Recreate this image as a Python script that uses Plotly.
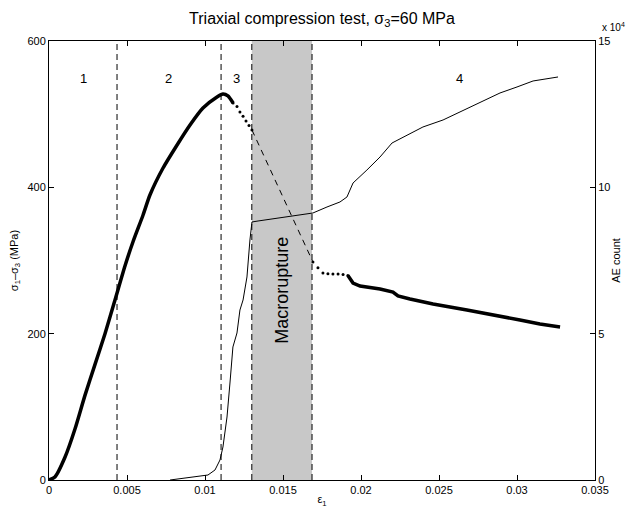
import plotly.graph_objects as go

# ---------------- data ----------------
# differential stress (MPa) vs axial strain
strain_pre = [0, 0.00038, 0.00103, 0.00167, 0.00231, 0.00295, 0.00359, 0.00423, 0.00487,
              0.00538, 0.00603, 0.00647, 0.00731, 0.00821, 0.00904, 0.00987, 0.01077,
              0.01115, 0.01147, 0.0118]
stress_pre = [0, 4.1, 31.4, 70.0, 116.0, 158.0, 200.0, 246.0, 292.5,
              325.3, 362.2, 389.5, 426.4, 457.9, 485.2, 508.4, 523.5,
              527.6, 524.9, 515.3]

strain_drop = [0.0118, 0.01205, 0.01224, 0.01244, 0.01263, 0.01282, 0.01301]
stress_drop = [515.3, 510.5, 503.0, 497.0, 490.6, 484.5, 478.4]

strain_rupture = [0.01301, 0.01692]
stress_rupture = [478.4, 297.9]

strain_settle = [0.01692, 0.01724, 0.01756, 0.01788, 0.0182, 0.01853, 0.01885, 0.01916]
stress_settle = [297.9, 290.0, 282.9, 282.0, 281.5, 281.5, 281.0, 279.5]

strain_post = [0.01916, 0.01949, 0.01994, 0.02038, 0.02122, 0.02205, 0.02237, 0.02314,
               0.02462, 0.02679, 0.02827, 0.02955, 0.03019, 0.03147, 0.03276]
stress_post = [279.5, 269.2, 265.1, 263.8, 261.0, 256.9, 251.5, 247.4,
               240.5, 232.3, 226.9, 221.4, 218.7, 213.2, 209.1]

# cumulative acoustic emission count
strain_ae = [0.00776, 0.00923, 0.01019, 0.01064, 0.01096, 0.01115, 0.01141, 0.0116, 0.01179,
             0.01205, 0.01224, 0.01244, 0.01269, 0.01288, 0.01301, 0.0134, 0.01692,
             0.01782, 0.01865, 0.0191, 0.01949, 0.02038, 0.02122, 0.02199, 0.02295,
             0.02397, 0.02526, 0.02635, 0.02763, 0.02891, 0.03, 0.03103, 0.03263]
ae_count = [0, 1025, 1709, 3417, 6834, 11276, 21527, 33145, 45446,
            50230, 58089, 61506, 69365, 82008, 88159, 88500, 91234,
            93284, 94993, 96701, 101485, 105927, 110369, 115153, 117887,
            120620, 123012, 125746, 129163, 132238, 134288, 136338, 137705]

# stage boundaries (strain) and macrorupture band
stage_bounds = [0.00436, 0.01103, 0.0130, 0.01686]
rupture_band = [0.0130, 0.01686]
stage_labels = ["1", "2", "3", "4"]
stage_label_x = [0.00218, 0.00769, 0.01205, 0.0263]
stage_label_y = [549, 549, 549, 549]

x_ticks = [0, 0.005, 0.01, 0.015, 0.02, 0.025, 0.03, 0.035]
y_ticks = [0, 200, 400, 600]
ae_ticks = [0, 50000, 100000, 150000]
ae_tick_text = ["0", "5", "10", "15"]

FONT = "Liberation Sans, Arial, Helvetica, sans-serif"

fig = go.Figure()

fig.add_trace(go.Scatter(x=strain_ae, y=ae_count, mode="lines", yaxis="y2",
                         line=dict(color="black", width=1), showlegend=False))
fig.add_trace(go.Scatter(x=strain_pre, y=stress_pre, mode="lines",
                         line=dict(color="black", width=3.5, shape="spline", smoothing=0.6),
                         showlegend=False))
fig.add_trace(go.Scatter(x=strain_drop, y=stress_drop, mode="markers",
                         marker=dict(color="black", size=3), showlegend=False))
fig.add_trace(go.Scatter(x=strain_rupture, y=stress_rupture, mode="lines",
                         line=dict(color="black", width=1, dash="6px,5px"), showlegend=False))
fig.add_trace(go.Scatter(x=strain_settle, y=stress_settle, mode="markers",
                         marker=dict(color="black", size=3), showlegend=False))
fig.add_trace(go.Scatter(x=strain_post, y=stress_post, mode="lines",
                         line=dict(color="black", width=3.5), showlegend=False))

shapes = [dict(type="rect", xref="x", yref="paper", x0=rupture_band[0], x1=rupture_band[1],
               y0=0, y1=1, fillcolor="#c8c8c8", line=dict(width=0), layer="below")]
for b in stage_bounds:
    shapes.append(dict(type="line", xref="x", yref="paper", x0=b, x1=b, y0=0, y1=1,
                       line=dict(color="black", width=1, dash="6px,4px"), layer="above"))

annotations = []
for t, lx, ly in zip(stage_labels, stage_label_x, stage_label_y):
    annotations.append(dict(x=lx, y=ly, xref="x", yref="y", text=t, showarrow=False,
                            font=dict(size=13, color="black", family=FONT)))
annotations.append(dict(x=sum(rupture_band) / 2, y=260, xref="x", yref="y", text="Macrorupture",
                        textangle=-90, showarrow=False,
                        font=dict(size=18, color="black", family=FONT)))
annotations.append(dict(x=1.034, y=1.014, xref="paper", yref="paper", text="x 10<sup>4</sup>",
                        showarrow=False, xanchor="center", yanchor="bottom",
                        font=dict(size=10, color="black", family=FONT)))

axis_common = dict(showgrid=False, zeroline=False, showline=True, linecolor="black",
                   linewidth=1, ticks="inside", ticklen=5, tickcolor="black", automargin=False,
                   tickfont=dict(size=11, color="black", family=FONT))

fig.update_layout(
    width=629, height=508,
    margin=dict(l=41, r=42, t=33, b=36),
    paper_bgcolor="white", plot_bgcolor="white",
    font=dict(family=FONT, color="black"),
    title=dict(text="Triaxial compression test, σ<sub>3</sub>=60 MPa", xref="paper", x=0.5,
               xanchor="center", yref="container", y=1 - 10 / 508, yanchor="middle",
               font=dict(size=16, color="black", family=FONT)),
    xaxis=dict(range=[0, 0.035], tickvals=x_ticks, ticktext=[str(v) for v in x_ticks],
               mirror="ticks", title=dict(text="ε<sub>1</sub>", standoff=0,
                                          font=dict(size=11, family=FONT)),
               **axis_common),
    yaxis=dict(range=[0, 600], tickvals=y_ticks,
               title=dict(text="σ<sub>1</sub>–σ<sub>3</sub> (MPa)", standoff=14,
                          font=dict(size=11, family=FONT)),
               **axis_common),
    yaxis2=dict(range=[0, 150000], tickvals=ae_ticks, ticktext=ae_tick_text,
                overlaying="y", side="right",
                title=dict(text="AE count", standoff=2, font=dict(size=11, family=FONT)),
                **axis_common),
    shapes=shapes,
    annotations=annotations,
)

fig.write_html("out.html")
